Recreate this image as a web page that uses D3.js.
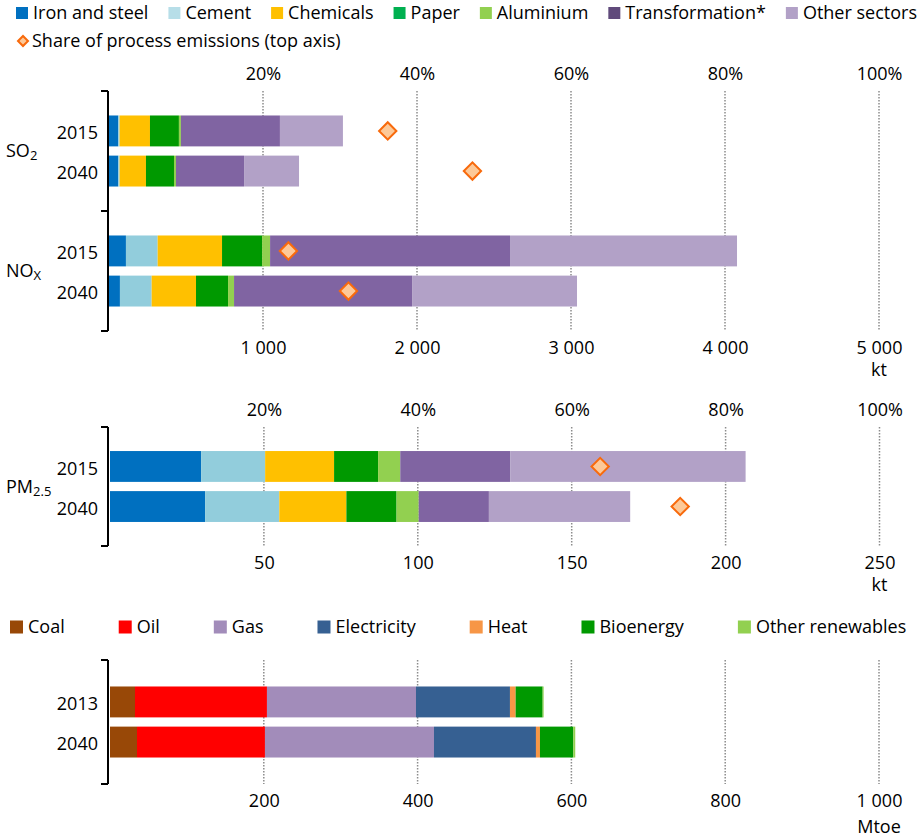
<!DOCTYPE html>
<html>
<head>
<meta charset="utf-8">
<script src="https://cdn.jsdelivr.net/npm/d3@7"></script>
<style>
  body { margin: 0; background: #fff; }
  svg { display: block; font-family: "Open Sans", sans-serif; font-size: 18px; fill: #000; }
  .c-grid { stroke: #8c8c8c; stroke-width: 1.5; stroke-dasharray: 1.5,1.5; }
  .c-bracket { stroke: #000; stroke-width: 2; fill: none; }
</style>
</head>
<body>
<script>
"use strict";

//data - pollutants (kt)

const sectors = ["Iron and steel", "Cement", "Chemicals", "Paper", "Aluminium", "Transformation*", "Other sectors"];
const years = ["2015", "2040"];

const so2_2015 = [60, 9, 197, 188, 13, 643, 409];
const so2_2040 = [60, 9, 171, 182, 13, 442, 357];
const nox_2015 = [110, 206, 418, 260, 52, 1558, 1474];
const nox_2040 = [71, 206, 288, 208, 39, 1156, 1071];
const pm_2015 = [29.6, 20.8, 22.4, 14.3, 7.2, 35.8, 76.4];
const pm_2040 = [30.9, 24.1, 21.8, 16.3, 7.2, 22.8, 45.9];

//share of process emissions (top axis)

const so2Share = [0.362, 0.472];
const noxShare = [0.233, 0.311];
const pmShare = [0.637, 0.741];

//data - energy (Mtoe)

const fuels = ["Coal", "Oil", "Gas", "Electricity", "Heat", "Bioenergy", "Other renewables"];
const energyYears = ["2013", "2040"];
const energy2013 = [32.5, 171.6, 193.8, 122.2, 7.4, 35.1, 1.3];
const energy2040 = [35.1, 166.4, 219.8, 132.6, 5.2, 43.3, 2.6];

//ticks

const ktTicks = [1000, 2000, 3000, 4000, 5000];
const pmTicks = [50, 100, 150, 200, 250];
const mtoeTicks = [200, 400, 600, 800, 1000];
const pctTicks = [0.2, 0.4, 0.6, 0.8, 1];

//colours

const sectorColors = ["#0070c0", "#92cddc", "#ffc000", "#009900", "#92d050", "#8064a2", "#b2a1c7"];
const sectorLegendColors = ["#0070c0", "#b7dee8", "#ffc000", "#00b050", "#92d050", "#604a7b", "#b2a1c7"];
const fuelColors = ["#984807", "#ff0000", "#a28cba", "#366092", "#f79646", "#009900", "#92d050"];

const fmt = d3.formatLocale({ decimal: ".", thousands: "\u00a0", grouping: [3], currency: ["", ""] }).format(",");

const svg = d3.select("body").append("svg")
  .attr("width", 922)
  .attr("height", 837);

const diamond = (size) => d3.symbol().type(d3.symbolSquare).size(size)();

//legend

const legend = (items, colors, x0, y, box, textGap, afterGap) => {

  const g = svg.append("g");
  let x = x0;

  items.forEach((name, i) => {
    g.append("rect")
      .attr("x", x)
      .attr("y", y - box / 2)
      .attr("width", box)
      .attr("height", box)
      .attr("fill", colors[i]);
    const t = g.append("text")
      .attr("x", x + textGap)
      .attr("y", y)
      .attr("dy", "0.35em")
      .text(name);
    x += textGap + t.node().getComputedTextLength() + afterGap;
  });

};

//stacked bar panel

const barPanel = (params) => {

  const { top, bottom, x0, x1, max, ticks, groups, colors, outer, unit, unitDy, pct } = params;

  const x = d3.scaleLinear().domain([0, max]).range([x0, x1]);
  const xp = d3.scaleLinear().domain([0, 1]).range([x0, x1]);
  const g = d3.scaleBand().domain(groups.map(d => d.name)).range([top, bottom]);
  const y = d3.scaleBand().domain(groups[0].rows.map(d => d.year))
    .range([0, g.bandwidth()])
    .paddingInner(0.23)
    .paddingOuter(outer);

  const panel = svg.append("g");

  //grid

  panel.selectAll(".c-grid")
    .data(ticks)
    .join("line")
    .attr("class", "c-grid")
    .attr("x1", d => x(d))
    .attr("x2", d => x(d))
    .attr("y1", top)
    .attr("y2", bottom);

  //bottom axis

  panel.append("g")
    .attr("transform", `translate(0, ${bottom + 17})`)
    .call(d3.axisBottom(x).tickValues(ticks).tickSize(0).tickPadding(0).tickFormat(fmt))
    .call(a => a.select(".domain").remove())
    .selectAll("text")
    .attr("y", 0)
    .attr("dy", "0.35em")
    .attr("fill", "#000")
    .style("font", "18px 'Open Sans'");

  panel.append("text")
    .attr("x", x(max))
    .attr("y", bottom + 17 + unitDy)
    .attr("dy", "0.35em")
    .attr("text-anchor", "middle")
    .text(unit);

  //top axis (share)

  if (pct) {
    panel.append("g")
      .attr("transform", `translate(0, ${top - 17})`)
      .call(d3.axisTop(xp).tickValues(pctTicks).tickSize(0).tickPadding(0).tickFormat(d3.format(".0%")))
      .call(a => a.select(".domain").remove())
      .selectAll("text")
      .attr("y", 0)
      .attr("dy", "0.35em")
      .attr("fill", "#000")
      .style("font", "18px 'Open Sans'");
  }

  //bars

  groups.forEach(grp => {

    const gy = g(grp.name);

    grp.rows.forEach(row => {
      const stack = d3.cumsum(row.values);
      panel.append("g")
        .selectAll("rect")
        .data(row.values)
        .join("rect")
        .attr("x", (d, i) => x(stack[i] - d))
        .attr("width", d => x(d) - x(0))
        .attr("y", gy + y(row.year))
        .attr("height", y.bandwidth())
        .attr("fill", (d, i) => colors[i]);

      panel.append("text")
        .attr("x", 98)
        .attr("y", gy + y(row.year) + y.bandwidth() / 2 + 2)
        .attr("dy", "0.35em")
        .attr("text-anchor", "end")
        .text(row.year);
    });

    if (pct) {
      panel.selectAll(null)
        .data(grp.rows)
        .join("path")
        .attr("d", diamond(150))
        .attr("transform", d => `translate(${xp(d.share)}, ${gy + y(d.year) + y.bandwidth() / 2}) rotate(45)`)
        .attr("fill", "#fdc998")
        .attr("stroke", "#f86a0c")
        .attr("stroke-width", 2);
    }

    if (grp.label) {
      const lab = panel.append("text")
        .attr("x", 6)
        .attr("y", gy + g.bandwidth() / 2)
        .attr("dy", "0.35em");
      lab.append("tspan").text(grp.label[0]);
      lab.append("tspan").attr("dy", 3).style("font-size", "13px").text(grp.label[1]);
    }

  });

  //bracket axis

  const edges = [top].concat(groups.map(d => g(d.name) + g.bandwidth()));
  panel.append("path")
    .attr("class", "c-bracket")
    .attr("d", `M108,${top}V${bottom}` + edges.map(e => `M101,${e}H108`).join(""));

};

//legends

legend(sectors, sectorLegendColors, 16, 13, 12, 17, 20);

svg.append("path")
  .attr("d", diamond(50))
  .attr("transform", "translate(23, 41) rotate(45)")
  .attr("fill", "#fdc998")
  .attr("stroke", "#f86a0c")
  .attr("stroke-width", 2);

svg.append("text")
  .attr("x", 32)
  .attr("y", 41)
  .attr("dy", "0.35em")
  .text("Share of process emissions (top axis)");

legend(fuels, fuelColors, 10, 627, 13, 18, 54);

//panels

barPanel({
  top: 91, bottom: 331, x0: 109, x1: 879, max: 5000, ticks: ktTicks,
  colors: sectorColors, outer: 0.61, unit: "kt", unitDy: 22, pct: true,
  groups: [
    { name: "SO2", label: ["SO", "2"], rows: [
      { year: years[0], values: so2_2015, share: so2Share[0] },
      { year: years[1], values: so2_2040, share: so2Share[1] }] },
    { name: "NOx", label: ["NO", "X"], rows: [
      { year: years[0], values: nox_2015, share: noxShare[0] },
      { year: years[1], values: nox_2040, share: noxShare[1] }] }
  ]
});

barPanel({
  top: 427, bottom: 546, x0: 110, x1: 879.5, max: 250, ticks: pmTicks,
  colors: sectorColors, outer: 0.6, unit: "kt", unitDy: 22, pct: true,
  groups: [
    { name: "PM2.5", label: ["PM", "2.5"], rows: [
      { year: years[0], values: pm_2015, share: pmShare[0] },
      { year: years[1], values: pm_2040, share: pmShare[1] }] }
  ]
});

barPanel({
  top: 660, bottom: 784, x0: 110, x1: 879, max: 1000, ticks: mtoeTicks,
  colors: fuelColors, outer: 0.66, unit: "Mtoe", unitDy: 26, pct: false,
  groups: [
    { name: "energy", label: null, rows: [
      { year: energyYears[0], values: energy2013 },
      { year: energyYears[1], values: energy2040 }] }
  ]
});

</script>
</body>
</html>
